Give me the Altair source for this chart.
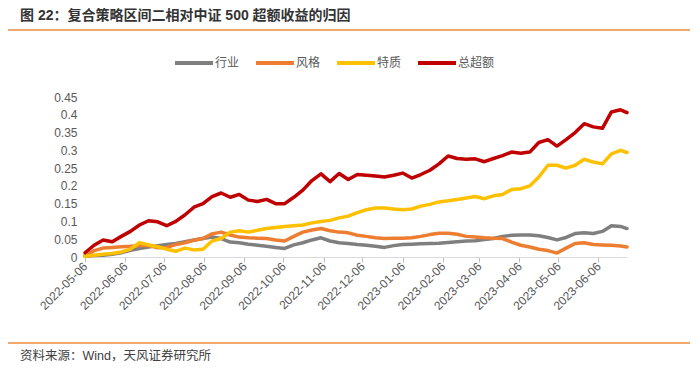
import altair as alt
import pandas as pd

title_text = "图 22：复合策略区间二相对中证 500 超额收益的归因"
source_text = "资料来源：Wind，天风证券研究所"

series_names = ["行业", "风格", "特质", "总超额"]
series_colors = ["#7F7F7F", "#ED7D31", "#FFC000", "#C00000"]

dates = [
    "2022-05-06", "2022-05-13", "2022-05-20", "2022-05-27", "2022-06-03", "2022-06-10",
    "2022-06-17", "2022-06-24", "2022-07-01", "2022-07-08", "2022-07-15", "2022-07-22",
    "2022-07-29", "2022-08-05", "2022-08-12", "2022-08-19", "2022-08-26", "2022-09-02",
    "2022-09-09", "2022-09-16", "2022-09-23", "2022-09-30", "2022-10-07", "2022-10-14",
    "2022-10-21", "2022-10-28", "2022-11-04", "2022-11-11", "2022-11-18", "2022-11-25",
    "2022-12-02", "2022-12-09", "2022-12-16", "2022-12-23", "2022-12-30", "2023-01-06",
    "2023-01-13", "2023-01-20", "2023-01-27", "2023-02-03", "2023-02-10", "2023-02-17",
    "2023-02-24", "2023-03-03", "2023-03-10", "2023-03-17", "2023-03-24", "2023-03-31",
    "2023-04-07", "2023-04-14", "2023-04-21", "2023-04-28", "2023-05-05", "2023-05-12",
    "2023-05-19", "2023-05-26", "2023-06-02", "2023-06-09", "2023-06-16", "2023-06-23",
    "2023-06-28",
]

industry = [
    0.002, 0.004, 0.005, 0.008, 0.012, 0.019, 0.024, 0.028, 0.032, 0.035,
    0.038, 0.043, 0.048, 0.052, 0.056, 0.052, 0.042, 0.040, 0.036, 0.033,
    0.030, 0.027, 0.024, 0.034, 0.040, 0.048, 0.054, 0.045, 0.040, 0.038,
    0.035, 0.033, 0.030, 0.027, 0.032, 0.035, 0.036, 0.037, 0.038, 0.039,
    0.041, 0.043, 0.045, 0.046, 0.049, 0.052, 0.058, 0.061, 0.062, 0.062,
    0.060, 0.055, 0.048, 0.055, 0.066, 0.068, 0.066, 0.072, 0.088, 0.086,
    0.080,
]
style = [
    0.004, 0.018, 0.025, 0.027, 0.029, 0.030, 0.032, 0.033, 0.026, 0.027,
    0.035, 0.040, 0.047, 0.052, 0.065, 0.070, 0.062, 0.056, 0.054, 0.053,
    0.052, 0.048, 0.045, 0.058, 0.070, 0.076, 0.080, 0.074, 0.070, 0.068,
    0.061, 0.058, 0.054, 0.052, 0.053, 0.053, 0.054, 0.058, 0.063, 0.067,
    0.067, 0.064, 0.058, 0.056, 0.054, 0.053, 0.052, 0.042, 0.033, 0.028,
    0.022, 0.018, 0.011, 0.025, 0.038, 0.040, 0.035, 0.034, 0.033, 0.031,
    0.028,
]
idiosyncratic = [
    0.002, 0.005, 0.008, 0.010, 0.014, 0.022, 0.040, 0.034, 0.029, 0.022,
    0.016, 0.025, 0.020, 0.022, 0.045, 0.052, 0.070, 0.074, 0.070, 0.075,
    0.080, 0.083, 0.086, 0.088, 0.090, 0.096, 0.100, 0.103, 0.110, 0.115,
    0.125, 0.133, 0.138, 0.138, 0.135, 0.133, 0.135, 0.143, 0.148, 0.155,
    0.158, 0.162, 0.166, 0.170, 0.164, 0.172, 0.176, 0.190, 0.192, 0.200,
    0.225, 0.258, 0.258, 0.250, 0.258, 0.275, 0.267, 0.262, 0.290, 0.300,
    0.294,
]
total = [
    0.012, 0.033, 0.048, 0.043, 0.058, 0.072, 0.090, 0.102, 0.099, 0.088,
    0.100, 0.118, 0.140, 0.150, 0.170, 0.180, 0.168, 0.176, 0.160, 0.156,
    0.162, 0.150, 0.150, 0.168, 0.188, 0.215, 0.234, 0.212, 0.235, 0.218,
    0.232, 0.230, 0.228, 0.225, 0.230, 0.236, 0.222, 0.232, 0.244, 0.262,
    0.284, 0.277, 0.275, 0.276, 0.268, 0.277, 0.285, 0.295, 0.292, 0.295,
    0.322, 0.330, 0.312, 0.330, 0.350, 0.375, 0.366, 0.362, 0.408, 0.414,
    0.406,
]

y_ticks = [0, 0.05, 0.1, 0.15, 0.2, 0.25, 0.3, 0.35, 0.4, 0.45]
x_tick_months = [
    (2022, 5), (2022, 6), (2022, 7), (2022, 8), (2022, 9), (2022, 10), (2022, 11),
    (2022, 12), (2023, 1), (2023, 2), (2023, 3), (2023, 4), (2023, 5), (2023, 6),
]

rows = []
for name, vals in zip(series_names, [industry, style, idiosyncratic, total]):
    for d, v in zip(dates, vals):
        rows.append({"date": d, "series": name, "value": v})
df = pd.DataFrame(rows)

FONT = "Liberation Sans, Noto Sans CJK SC"
ORANGE = "#EE8A3C"
TXT = "#595959"

x_enc = alt.X(
    "date:T",
    scale=alt.Scale(
        type="utc",
        nice=False,
        domain=[
            alt.DateTime(year=2022, month=5, date=6, utc=True),
            alt.DateTime(year=2023, month=6, date=28, utc=True),
        ],
    ),
    axis=alt.Axis(
        values=[alt.DateTime(year=y, month=m, date=6, utc=True) for y, m in x_tick_months],
        format="%Y-%m-%d",
        labelAngle=-45,
        labelAlign="right",
        labelBaseline="middle",
        labelFlush=False,
        labelOverlap=False,
        tickSize=5,
        tickColor="#BFBFBF",
        domainColor="#D9D9D9",
        grid=False,
        labelFontSize=12,
        labelColor=TXT,
        labelFont=FONT,
        labelPadding=2,
        title=None,
    ),
)

y_enc = alt.Y(
    "value:Q",
    scale=alt.Scale(domain=[0, 0.45], nice=False),
    axis=alt.Axis(
        values=y_ticks,
        format=".2~f",
        grid=False,
        domain=False,
        ticks=False,
        labelPadding=8,
        labelFontSize=12,
        labelColor=TXT,
        labelFont=FONT,
        title=None,
    ),
)

color_enc = alt.Color(
    "series:N",
    scale=alt.Scale(domain=series_names, range=series_colors),
    legend=alt.Legend(
        orient="none",
        legendX=88,
        legendY=-55,
        direction="horizontal",
        symbolType="stroke",
        symbolSize=1444,
        symbolStrokeWidth=4,
        labelFontSize=12,
        labelColor=TXT,
        labelFont=FONT,
        labelOffset=0,
        columnPadding=8,
        title=None,
    ),
)

lines = alt.Chart(df).mark_line(strokeWidth=3.5, strokeJoin="round", strokeCap="round").encode(
    x=x_enc, y=y_enc, color=color_enc
)

one = pd.DataFrame({"k": [0]})
rule_top = alt.Chart(one).mark_rule(color=ORANGE, strokeWidth=1.5).encode(
    x=alt.value(-77), x2=alt.value(605), y=alt.value(-67)
)
rule_bottom = alt.Chart(one).mark_rule(color=ORANGE, strokeWidth=1.5).encode(
    x=alt.value(-77), x2=alt.value(605), y=alt.value(246)
)
title_mark = alt.Chart(pd.DataFrame({"t": [title_text]})).mark_text(
    align="left", baseline="middle", fontSize=14, fontWeight="bold", color="#333333", font=FONT
).encode(text="t:N", x=alt.value(-65), y=alt.value(-81))
source_mark = alt.Chart(pd.DataFrame({"t": [source_text]})).mark_text(
    align="left", baseline="middle", fontSize=12.5, color="#404040", font=FONT
).encode(text="t:N", x=alt.value(-65), y=alt.value(259))

chart = (
    alt.layer(rule_top, rule_bottom, title_mark, source_mark, lines)
    .properties(
        width=542,
        height=160,
        autosize=alt.AutoSizeParams(type="none"),
        padding={"left": 77, "top": 89, "right": 65, "bottom": 107},
        background="white",
    )
    .configure_view(stroke="transparent")
)

chart.save("out.html", embed_options={"renderer": "svg", "actions": False})
